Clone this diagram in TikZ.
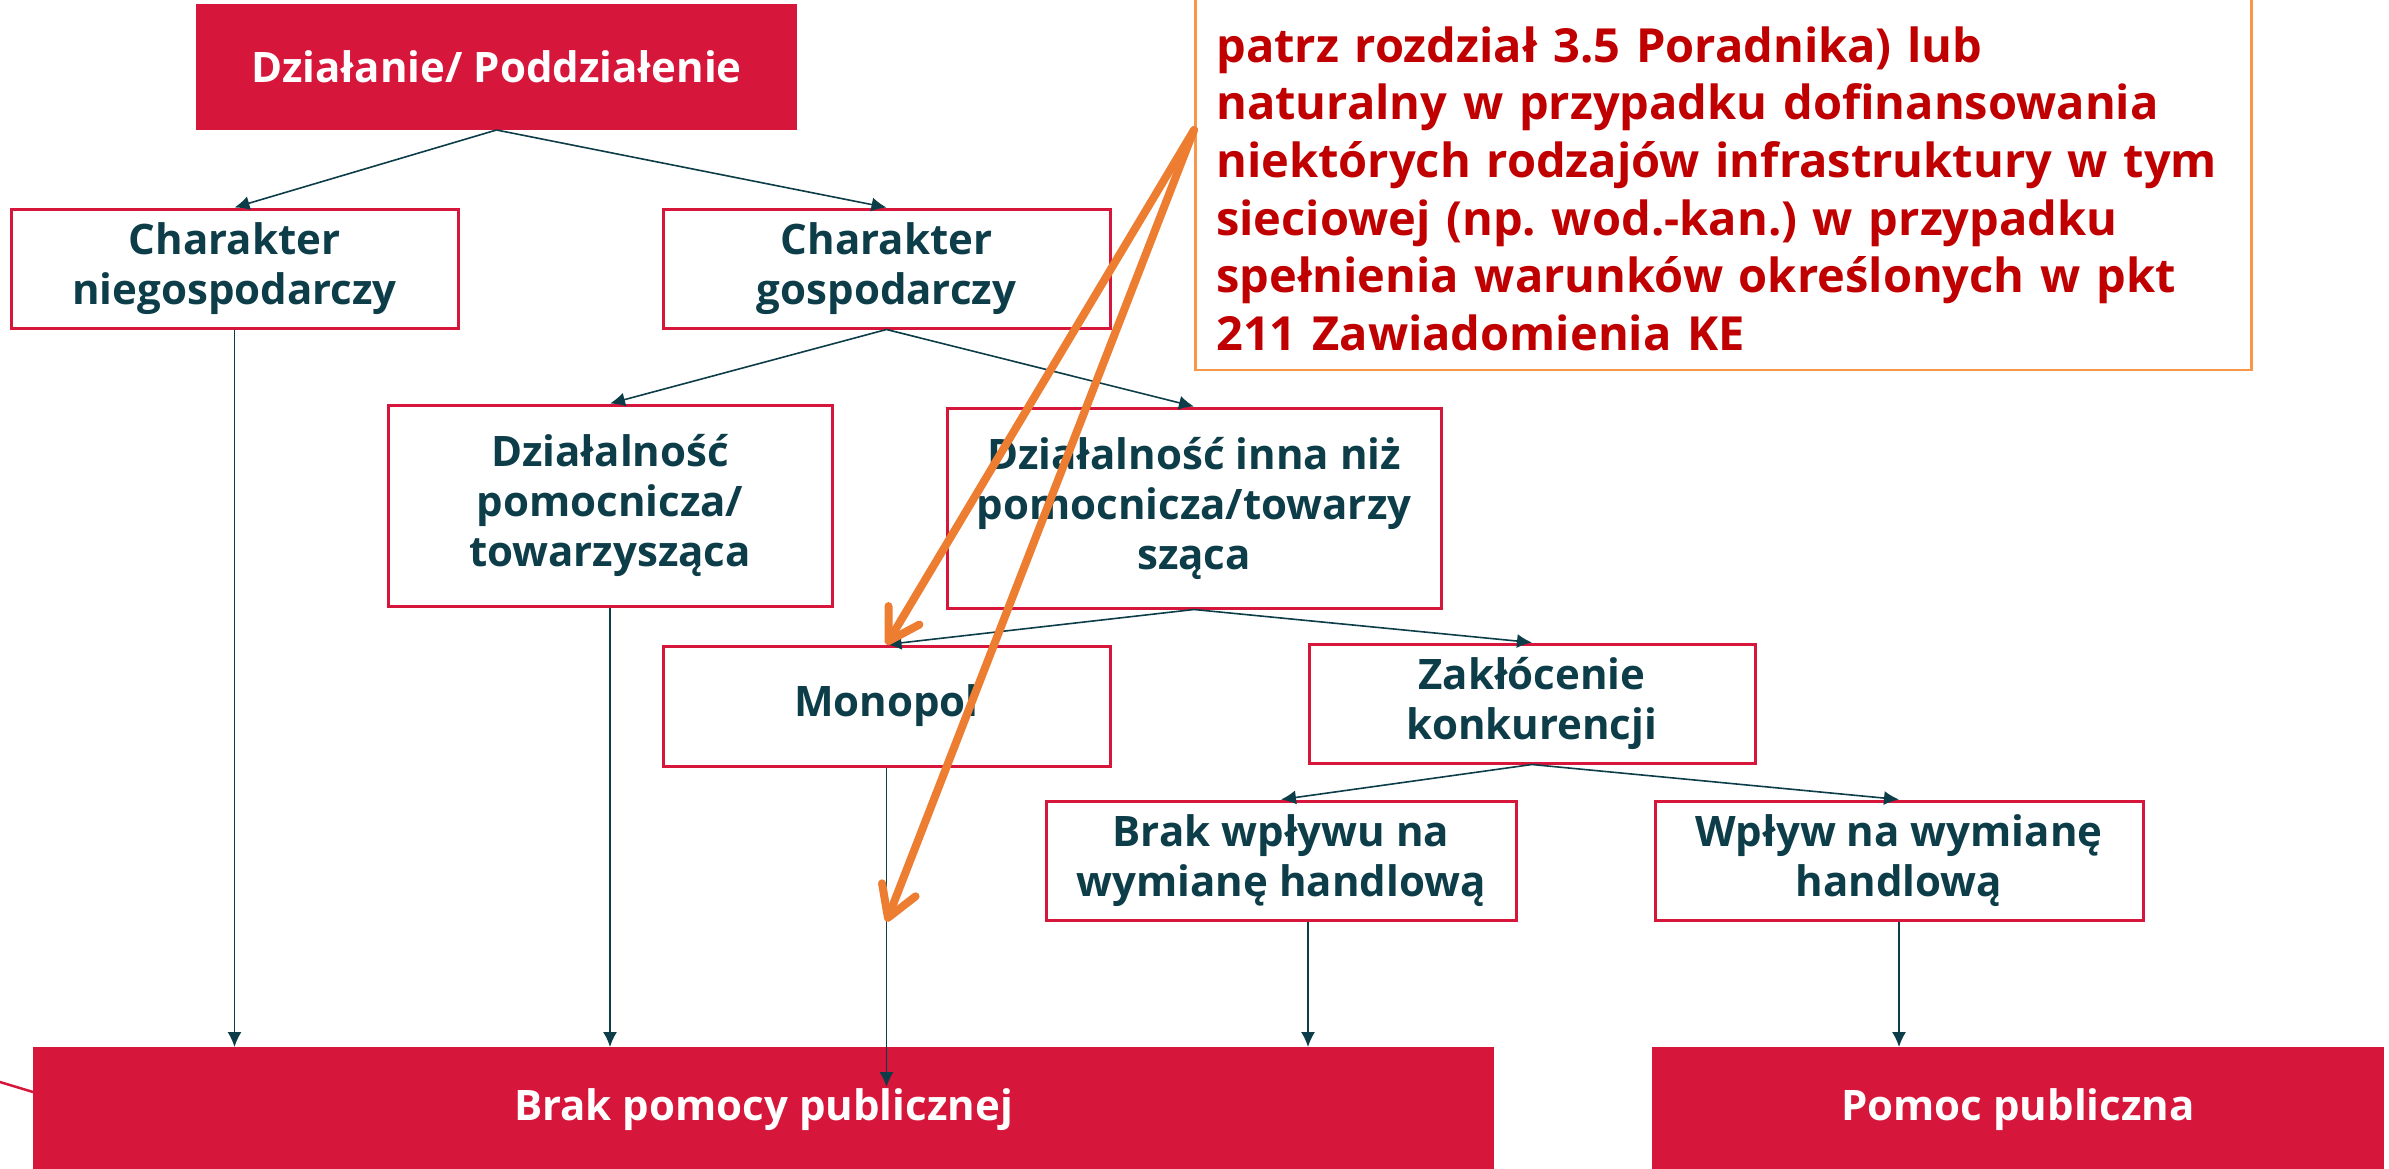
\documentclass[tikz,border=0pt]{standalone}
\usepackage{fontspec}
\setmainfont{Open Sans}
\usetikzlibrary{arrows.meta}
\definecolor{aidred}{HTML}{D7163B}
\definecolor{aidteal}{HTML}{0D3D48}
\definecolor{aidorange}{HTML}{ED7D31}
\definecolor{aidpeach}{HTML}{F8964A}
\definecolor{aidnote}{HTML}{C00000}
\frenchspacing
\begin{document}
\begin{tikzpicture}
[
    x=1pt, y=-1pt,
    every node/.style={font=\fontsize{42}{50}\selectfont\bfseries, align=center, inner sep=0pt},
    headbox/.style={fill=aidred, draw=aidred, text=white, line width=2pt},
    choicebox/.style={draw=aidred, fill=white, text=aidteal, line width=3pt},
    notebox/.style={draw=aidpeach, fill=white, text=aidnote, line width=2.5pt,
        font=\fontsize{47}{57.6}\selectfont\bfseries, align=left,
        text width=1014pt, inner xsep=21pt, inner ysep=19pt},
    link/.style={draw=aidteal, line width=1.6pt, -{Latex[length=15pt,width=14pt]}},
    pointer/.style={draw=aidorange, line width=8pt, line cap=round,
        -{Straight Barb[length=30pt,width=36pt,round]}},
]
\useasboundingbox (0,0) rectangle (2389,1169);
\clip (0,0) rectangle (2389,1169);

\node[headbox, minimum width=599, minimum height=124] (dzialanie) at (496.5,67) {Działanie/ Poddziałenie};
\node[choicebox, minimum width=447, minimum height=119] (niegosp) at (234.5,268.5) {Charakter\\niegospodarczy};
\node[choicebox, minimum width=447, minimum height=119] (gosp) at (886.5,268.5) {Charakter\\gospodarczy};
\node[choicebox, minimum width=444, minimum height=201] (pomocnicza) at (610,505.5) {Działalność\\pomocnicza/\\towarzysząca};
\node[choicebox, minimum width=494, minimum height=200] (inna) at (1194,508) {Działalność inna niż\\pomocnicza/towarzy\\sząca};
\node[choicebox, minimum width=447, minimum height=120] (monopol) at (886.5,706) {Monopol};
\node[choicebox, minimum width=446, minimum height=119] (zaklocenie) at (1532,703.5) {Zakłócenie\\konkurencji};
\node[choicebox, minimum width=470, minimum height=119] (brakwplywu) at (1281,860.5) {Brak wpływu na\\wymianę handlową};
\node[choicebox, minimum width=488, minimum height=119] (wplyw) at (1899,860.5) {Wpływ na wymianę\\handlową};
\node[headbox, minimum width=1459, minimum height=124] (brakpomocy) at (763.5,1110) {Brak pomocy publicznej};
\node[headbox, minimum width=730, minimum height=124] (pomoc) at (2018,1110) {Pomoc publiczna};

\node[notebox, anchor=south west] (note) at (1194,371) {\rule{0pt}{150pt}patrz rozdział 3.5 Poradnika) lub\\
naturalny w przypadku dofinansowania\\
niektórych rodzajów infrastruktury w tym\\
sieciowej (np. wod.-kan.) w przypadku\\
spełnienia warunków określonych w pkt\\
211 Zawiadomienia KE};

\draw[link] (dzialanie.south) -- (niegosp.north);
\draw[link] (dzialanie.south) -- (gosp.north);
\draw[link] (gosp.south) -- (pomocnicza.north);
\draw[link] (gosp.south) -- (inna.north);
\draw[link] (inna.south) -- (monopol.north);
\draw[link] (inna.south) -- (zaklocenie.north);
\draw[link] (zaklocenie.south) -- (brakwplywu.north);
\draw[link] (zaklocenie.south) -- (wplyw.north);

\draw[link] (niegosp.south) -- (niegosp.south |- brakpomocy.north);
\draw[link] (pomocnicza.south) -- (pomocnicza.south |- brakpomocy.north);
\draw[link] (monopol.south) -- ([yshift=-40pt]monopol.south |- brakpomocy.north);
\draw[link] ([xshift=27pt]brakwplywu.south) -- ([xshift=27pt]brakwplywu.south |- brakpomocy.north);
\draw[link] (wplyw.south) -- (wplyw.south |- pomoc.north);

\coordinate (offleft) at (-10,1079);
\draw[aidred, line width=2.5pt] (offleft) -- ([yshift=18pt]brakpomocy.west);

\coordinate (hintstart) at ([yshift=241pt]note.south west);
\draw[pointer] (hintstart) -- (monopol.north);
\draw[pointer] (hintstart) -- (monopol.south |- brakwplywu.south);
\end{tikzpicture}
\end{document}
